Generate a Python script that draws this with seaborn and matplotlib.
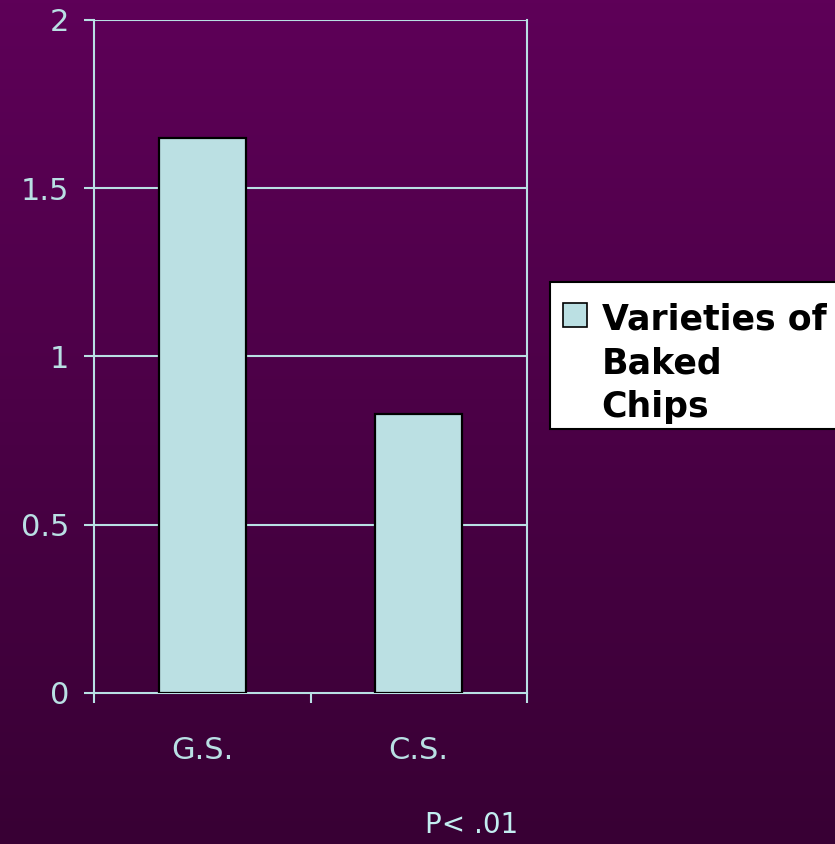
import numpy as np
import pandas as pd
import matplotlib
matplotlib.use("Agg")
import matplotlib.pyplot as plt
import seaborn as sns

# Data
categories = ["G.S.", "C.S."]
values = [1.65, 0.83]
series_label = "Varieties of\nBaked\nChips"
y_ticks = [0, 0.5, 1, 1.5, 2]
y_tick_labels = ["0", "0.5", "1", "1.5", "2"]
note_text = "P< .01"

LIGHT = "#b9e0e4"
NOTE = "#c2eef0"
BAR = "#bbe0e3"
BG_TOP = np.array([0x5e, 0x00, 0x58]) / 255
BG_BOT = np.array([0x38, 0x00, 0x34]) / 255
DPI = 100

sns.set_theme(style="white")
plt.rcParams["font.family"] = ["DejaVu Sans"]

fig = plt.figure(figsize=(8.35, 8.44), dpi=DPI)

# vertical gradient background
bg = fig.add_axes([0, 0, 1, 1], zorder=-10)
t = np.linspace(0, 1, 256)[:, None, None]
grad = BG_TOP[None, None, :] * (1 - t) + BG_BOT[None, None, :] * t
grad = np.repeat(grad, 2, axis=1)
bg.imshow(grad, aspect="auto", extent=[0, 1, 0, 1], origin="upper")
bg.set_axis_off()

ax = fig.add_axes([94 / 835, 151 / 844, 433 / 835, 673 / 844])
ax.patch.set_alpha(0)

df = pd.DataFrame({"group": categories, "value": values})
sns.barplot(data=df, x="group", y="value", color=BAR, width=0.4,
            edgecolor="black", linewidth=1.6, saturation=1,
            label=series_label, ax=ax, zorder=3)
handles, labels = ax.get_legend_handles_labels()
if ax.get_legend() is not None:
    ax.get_legend().remove()

ax.set_ylim(0, 2)
ax.set_xlim(-0.5, 1.5)
ax.set_yticks(y_ticks)
ax.set_yticklabels(y_tick_labels)
ax.set_xlabel("")
ax.set_ylabel("")

for y in y_ticks[1:]:
    ax.axhline(y, color=LIGHT, lw=1.5, zorder=1)

for s in ax.spines.values():
    s.set_color(LIGHT)
    s.set_linewidth(1.5)
    s.set_visible(True)
ax.spines["top"].set_visible(False)

ax.tick_params(axis="y", colors=LIGHT, labelsize=22, length=7, width=1.5,
               direction="out", left=True, pad=11)
ax.tick_params(axis="x", which="major", colors=LIGHT, labelsize=22, length=0, pad=31)
ax.set_xticks([-0.5, 0.5, 1.5], minor=True)
ax.tick_params(axis="x", which="minor", colors=LIGHT, length=7, width=1.5,
               direction="out", bottom=True)

# legend box on the right, its swatch next to the first line of the label
LEG_FS = 25
em = LEG_FS * DPI / 72
leg = fig.legend(handles, labels, loc="upper left",
                 bbox_to_anchor=(549.5 / 835, 1 - 282 / 844),
                 borderaxespad=0, frameon=True, fancybox=False,
                 prop={"size": LEG_FS, "weight": "bold"},
                 handlelength=24 / em, handleheight=24 / em,
                 handletextpad=15 / em, borderpad=13 / em)
frame = leg.get_frame()
frame.set_facecolor("white")
frame.set_edgecolor("black")
frame.set_linewidth(1.5)
frame.set_alpha(1)
for txt in leg.get_texts():
    txt.set_color("black")
    txt.set_linespacing(1.35)

fig.text(472 / 835, 11 / 844, note_text, color=NOTE, fontsize=20,
         ha="center", va="baseline")

fig.canvas.draw()
renderer = fig.canvas.get_renderer()
# sit the label text a little lower inside the box
for txt in leg.get_texts():
    txt.set_y(txt.get_position()[1] - 8)
fig.canvas.draw()

swatch = leg.legend_handles[0]
swatch.set_edgecolor("black")
swatch.set_linewidth(1.2)
tb = leg.get_texts()[0].get_window_extent(renderer)
hb = swatch.get_window_extent(renderer)
# top of swatch level with the cap height of the first line
cap_gap = 0
shift_px = (tb.y1 - cap_gap) - hb.y1
swatch.set_y(swatch.get_y() + shift_px * 72 / DPI)

fig.savefig("out.png", dpi=DPI)
